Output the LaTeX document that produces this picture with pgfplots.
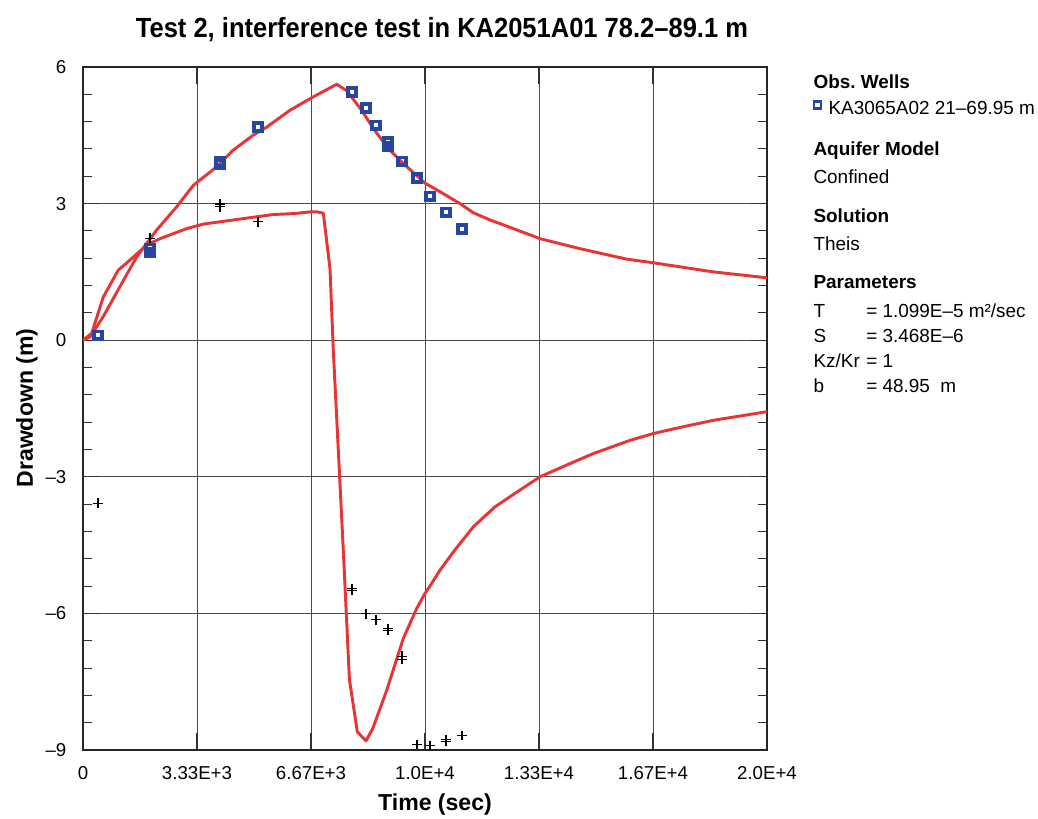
\documentclass[border=0pt]{standalone}
\usepackage{fontspec}
\setmainfont{Liberation Sans}
\newfontfamily\titlefont[FakeStretch=0.92]{Liberation Sans}
\usepackage{pgfplots}
\pgfplotsset{compat=1.18}

\definecolor{fitred}{RGB}{232,52,52}
\definecolor{obsblue}{RGB}{38,70,160}

\begin{document}
\frenchspacing
\begin{tikzpicture}
\useasboundingbox (-62.25pt,-51pt) rectangle (716.25pt,562.5pt);
\begin{axis}[
  scale only axis,
  width=513pt, height=512.25pt,
  xmin=0, xmax=20000, ymin=-9, ymax=6,
  scaled x ticks=false,
  xtick={0,3333.33,6666.67,10000,13333.33,16666.67,20000},
  xticklabels={0,3.33E+3,6.67E+3,1.0E+4,1.33E+4,1.67E+4,2.0E+4},
  ytick={-9,-6,-3,0,3,6},
  yticklabels={–9,–6,–3,0,3,6},
  minor x tick num=4, minor y tick num=4,
  tick align=inside,
  major tick length=13pt, minor tick length=7pt,
  every tick/.style={black!80, line width=0.8pt},
  grid=major,
  major grid style={black!70, line width=0.7pt},
  axis line style={black!85, line width=1.1pt},
  ticklabel style={font=\fontsize{14}{16}\selectfont},
  xticklabel style={yshift=-9pt},
  yticklabel style={xshift=-9pt},
  clip=true,
]
% observation well KA3065A02
\addplot[only marks, mark=square, mark size=2.9pt,
  mark options={draw=obsblue, line width=2.7pt, fill=white}] coordinates {
  (439,0.11) (1959,2.02) (1959,1.93) (4006,3.91) (4006,3.86) (5117,4.68)
  (7865,5.45) (8275,5.10) (8567,4.72) (8918,4.35) (8918,4.26) (9327,3.93)
  (9766,3.56) (10146,3.16) (10614,2.81) (11082,2.44)
};
% pumping section KA2051A01
\addplot[only marks, mark=+, mark size=3.6pt,
  mark options={draw=black, line width=0.9pt}] coordinates {
  (439,-3.58) (1959,2.24) (4006,2.99) (4006,2.93) (5117,2.60)
  (7865,-5.46) (7865,-5.50) (8275,-6.01) (8567,-6.14) (8918,-6.33) (8918,-6.37)
  (9327,-6.94) (9327,-7.01) (9766,-8.88) (10146,-8.90)
  (10614,-8.77) (10614,-8.81) (11082,-8.68)
};
% Theis solution, observation well
\addplot[fitred, line width=2.2pt, line join=round] coordinates {
  (0,0) (205,0.07) (585,0.51) (1023,1.10) (1570,1.83) (2155,2.42)
  (2740,2.93) (3225,3.40) (3909,3.81) (4386,4.17) (4971,4.50) (5371,4.68)
  (6053,5.05) (6725,5.34) (7418,5.62) (7711,5.48) (8149,5.05) (8488,4.65)
  (8927,4.21) (9366,3.88) (10000,3.45) (10439,3.26) (11023,3.00)
  (11412,2.80) (11900,2.64) (12193,2.56) (13363,2.23) (14532,2.01)
  (15898,1.78) (16676,1.70) (18430,1.50) (20000,1.37)
};
% Theis solution, pumping section
\addplot[fitred, line width=2.2pt, line join=round] coordinates {
  (0,0) (254,0.15) (594,0.95) (1032,1.54) (1374,1.76) (1863,2.09)
  (2251,2.23) (3032,2.45) (3518,2.55) (4687,2.67) (5565,2.76) (6149,2.78)
  (6687,2.82) (6834,2.82) (7027,2.79) (7222,1.57) (7319,-0.22) (7611,-4.61)
  (7790,-7.45) (8021,-8.60) (8275,-8.80) (8471,-8.53) (8880,-7.69)
  (9366,-6.55) (9758,-5.89) (10000,-5.56) (10146,-5.40) (10439,-5.05)
  (10850,-4.63) (11412,-4.10) (12047,-3.66) (12778,-3.29) (13363,-3.00)
  (14240,-2.71) (14921,-2.49) (15994,-2.20) (16676,-2.05) (17553,-1.90)
  (18430,-1.76) (20000,-1.57)
};
\end{axis}

% title and axis labels
\node[anchor=base, font=\titlefont\fontsize{20.8}{24}\selectfont\bfseries]
  at (269.25pt,534pt) {Test 2, interference test in KA2051A01 78.2–89.1 m};
\node[font=\fontsize{17.3}{20}\selectfont\bfseries] at (264pt,-41.25pt) {Time (sec)};
\node[font=\fontsize{17.3}{20}\selectfont\bfseries, rotate=90] at (-42pt,256.5pt) {Drawdown (m)};

% side panel
\begin{scope}[every node/.style={anchor=base west, inner sep=0pt, font=\fontsize{14.2}{17}\selectfont}]
\node[font=\fontsize{14.2}{17}\selectfont\bfseries] at (547.7pt,496.3pt) {Obs. Wells};
\node at (559pt,476.25pt) {KA3065A02 21–69.95 m};
\node[font=\fontsize{14.2}{17}\selectfont\bfseries] at (547.7pt,445.7pt) {Aquifer Model};
\node at (547.7pt,424.5pt) {Confined};
\node[font=\fontsize{14.2}{17}\selectfont\bfseries] at (547.7pt,395.8pt) {Solution};
\node at (547.7pt,374.5pt) {Theis};
\node[font=\fontsize{14.2}{17}\selectfont\bfseries] at (547.7pt,345.75pt) {Parameters};
\node at (547.7pt,324.5pt) {T};
\node at (587.25pt,324.5pt) {= 1.099E–5 m²/sec};
\node at (547.7pt,305.8pt) {S};
\node at (587.25pt,305.8pt) {= 3.468E–6};
\node at (547.7pt,287pt) {Kz/Kr};
\node at (587.25pt,287pt) {= 1};
\node at (547.7pt,268.3pt) {b};
\node at (587.25pt,268.3pt) {= 48.95\ \ m};
\end{scope}
\draw[obsblue, line width=1.8pt, fill=white] (548.3pt,481.2pt) rectangle (553.5pt,486.4pt);
\end{tikzpicture}
\end{document}
